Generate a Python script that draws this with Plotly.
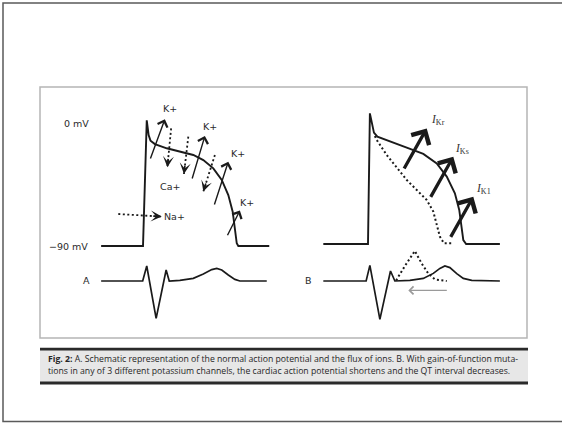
import math
import plotly.graph_objects as go

# ======================= data =======================
# Panel A - normal ventricular action potential (time in ms, membrane potential in mV)
ap_a_time = [-134, 0, 12, 18, 24, 38, 76, 118, 161, 193, 225, 252, 273, 287, 294, 300, 305, 404]
ap_a_mv = [-90, -90, 2, -8.8, -12.9, -15.4, -18.5, -21.0, -23.4, -27.1, -33.2, -41.7, -52.7, -64.9, -77.1, -88.0, -90, -90]

# Panel A - surface ECG (time in ms, amplitude in mV)
ecg_a_time = [-134, -1, 12, 42, 74, 84, 118, 161, 193, 220, 236, 252, 273, 294, 310, 396]
ecg_a_mv = [0, 0, 0.75, -1.87, 0.55, 0, 0.03, 0.13, 0.35, 0.57, 0.63, 0.55, 0.30, 0.08, 0, 0]

# Panel B - normal action potential (solid) and shortened action potential (dotted)
ap_b_time = [-143, 0, 6, 13, 19, 30, 70, 124, 177, 220, 252, 278, 292, 300, 305, 314, 422]
ap_b_mv = [-90, -90, 5.6, -2.9, -8.5, -11.5, -15.1, -19.5, -24.1, -31.0, -40.7, -52.9, -65.1, -77.3, -87.1, -90, -90]
short_ap_time = [22, 28, 60, 92, 124, 156, 188, 209, 220, 230, 243, 273]
short_ap_mv = [-11, -13.9, -24.9, -33.9, -43.2, -50.5, -57.8, -66.3, -74.9, -84.6, -89.5, -89.5]

# Panel B - ECG with normal T wave (solid) and early T wave (dotted)
ecg_b_time = [-143, -6, 6, 38, 72, 86, 134, 177, 209, 230, 246, 262, 284, 305, 332, 422]
ecg_b_mv = [0, 0, 0.78, -1.92, 0.5, 0, 0.03, 0.13, 0.38, 0.63, 0.75, 0.67, 0.37, 0.13, 0.03, 0]
short_t_time = [90, 118, 150, 172, 193, 214, 252]
short_t_mv = [0.03, 0.75, 1.5, 0.87, 0.37, 0.08, 0]

# Ion fluxes, panel A: (start ms, start mV, end ms, end mV)
k_out_a = [(22, -27.1, 70, 2.7), (156, -41.7, 198, -9.5), (227, -60.7, 273, -28.3), (268, -83.2, 310, -64.1)]
k_label_pos = [(85, 10.7), (214, -2.7), (305, -22.2), (334, -58.3)]
ca_in_a = [(90, -3.9, 78, -32.4), (145, -10, 131, -37.3), (230, -23.4, 193, -50.2)]
ca_label_pos = (86, -46.1)
na_in_a = (-79, -66.6, 60, -68.5)
na_label_pos = (102, -68.5)

# Potassium currents, panel B
ik_b = [(113, -35.9, 188, -5.4), (198, -56.6, 273, -26.1), (262, -85.9, 337, -55.4)]
ik_names = ["Kr", "Ks", "K1"]
ik_label_pos = [(224, 0.7), (302, -20.7), (368, -49.8)]

# QT shortening arrow (ECG units)
qt_arrow = (257, -0.47, 129, -0.47)

caption_line1 = ("<b>Fig. 2:</b> A. Schematic representation of the normal action potential and the flux of ions. "
                 "B. With gain-of-function muta-")
caption_line2 = ("tions in any of 3 different potassium channels, the cardiac action potential shortens "
                 "and the QT interval decreases.")

# ======================= layout geometry =======================
W, H = 562, 424
MS_PX = 3.2          # ms per pixel
MV_PX = 90 / 123     # mV per pixel (AP)
E_PX = 1 / 20        # mV per pixel (ECG)


def fx(x):
    return x / W


def fy(y):
    return 1 - y / H


INK = "#1a1a1a"
LABEL_FONT = dict(family="DejaVu Sans", size=9.5, color="#2a2a2a")

fig = go.Figure()


def line(x, y, xa, ya, dash="solid", width=1.9, color=INK):
    fig.add_trace(go.Scatter(x=x, y=y, xaxis=xa, yaxis=ya, mode="lines",
                             line=dict(color=color, width=width, dash=dash),
                             hoverinfo="skip", showlegend=False))


# curves
line(ap_a_time, ap_a_mv, "x", "y")
line(ecg_a_time, ecg_a_mv, "x", "y3", width=1.7)
line(ap_b_time, ap_b_mv, "x2", "y2")
line(short_ap_time, short_ap_mv, "x2", "y2", dash="2px,2.5px", width=2)
line(ecg_b_time, ecg_b_mv, "x2", "y3", width=1.7)
line(short_t_time, short_t_mv, "x2", "y3", dash="2px,2.5px", width=2)

annotations = []


def solid_arrow(a, xr, yr, width, head, size, color=INK):
    t0, v0, t1, v1 = a
    annotations.append(dict(x=t1, y=v1, ax=t0, ay=v0, xref=xr, yref=yr, axref=xr, ayref=yr,
                            text="", showarrow=True, arrowhead=head, arrowsize=size,
                            arrowwidth=width, arrowcolor=color))


def dotted_arrow(a, xr, yr, yscale):
    t0, v0, t1, v1 = a
    line([t0, t1], [v0, v1], xr, yr, dash="2px,2.5px", width=1.8)
    dxp = (t1 - t0) / MS_PX
    dyp = -(v1 - v0) / yscale
    n = math.hypot(dxp, dyp)
    L = 10
    annotations.append(dict(x=t1, y=v1, ax=-dxp / n * L, ay=-dyp / n * L, xref=xr, yref=yr,
                            text="", showarrow=True, arrowhead=3, arrowsize=1.15,
                            arrowwidth=1.6, arrowcolor=INK))


for a in k_out_a:
    solid_arrow(a, "x", "y", 1.4, 4, 1.45)
for (t, v) in k_label_pos:
    annotations.append(dict(x=t, y=v, xref="x", yref="y", text="K+", showarrow=False, font=LABEL_FONT))
for a in ca_in_a:
    dotted_arrow(a, "x", "y", MV_PX)
annotations.append(dict(x=ca_label_pos[0], y=ca_label_pos[1], xref="x", yref="y", text="Ca+",
                        showarrow=False, font=LABEL_FONT))
dotted_arrow(na_in_a, "x", "y", MV_PX)
annotations.append(dict(x=na_label_pos[0], y=na_label_pos[1], xref="x", yref="y", text="Na+",
                        showarrow=False, font=LABEL_FONT))

for a in ik_b:
    solid_arrow(a, "x2", "y2", 3.3, 4, 1.2)
for name, (t, v) in zip(ik_names, ik_label_pos):
    annotations.append(dict(x=t, y=v, xref="x2", yref="y2",
                            text="<i>I</i><sub>%s</sub>" % name, showarrow=False,
                            font=dict(family="Liberation Serif", size=11.5, color="#333")))

solid_arrow(qt_arrow, "x2", "y3", 1.1, 4, 1.4, color="#9a9a9a")

# axis labels
annotations += [
    dict(x=-214, y=0, xref="x", yref="y", text="0 mV", showarrow=False, font=LABEL_FONT),
    dict(x=-170, y=-90, xref="x", yref="y", text="\u221290 mV", showarrow=False,
         xanchor="right", font=LABEL_FONT),
    dict(x=-180, y=0.05, xref="x", yref="y3", text="A", showarrow=False, font=LABEL_FONT),
    dict(x=-191, y=0.05, xref="x2", yref="y3", text="B", showarrow=False, font=LABEL_FONT),
]

# caption
CAP_FONT = dict(family="Open Sans", size=8.7, color="#262626")
annotations += [
    dict(x=fx(46), y=fy(358.5), xref="paper", yref="paper", text=caption_line1, showarrow=False,
         xanchor="left", yanchor="middle", font=CAP_FONT),
    dict(x=fx(46), y=fy(371), xref="paper", yref="paper", text=caption_line2, showarrow=False,
         xanchor="left", yanchor="middle", font=CAP_FONT),
]

shapes = [
    dict(type="rect", xref="paper", yref="paper", x0=fx(3), x1=fx(566), y0=fy(3), y1=fy(421.5),
         line=dict(color="#5a5a5a", width=1.5), layer="below"),
    dict(type="rect", xref="paper", yref="paper", x0=fx(40), x1=fx(527), y0=fy(87), y1=fy(338),
         line=dict(color="#b5b5b5", width=1.5), layer="below"),
    dict(type="rect", xref="paper", yref="paper", x0=fx(40), x1=fx(528), y0=fy(349), y1=fy(383),
         fillcolor="#e7e7e7", line=dict(width=0), layer="below"),
    dict(type="line", xref="paper", yref="paper", x0=fx(40), x1=fx(528), y0=fy(349.2), y1=fy(349.2),
         line=dict(color="#2a2a2a", width=2.8)),
    dict(type="line", xref="paper", yref="paper", x0=fx(40), x1=fx(528), y0=fy(383), y1=fy(383),
         line=dict(color="#2a2a2a", width=2.8)),
]

x_range = [-103 * MS_PX, (250 - 103) * MS_PX]
ax_common = dict(visible=False, fixedrange=True, showgrid=False, zeroline=False)

fig.update_layout(
    width=W, height=H, margin=dict(l=0, r=0, t=0, b=0),
    paper_bgcolor="white", plot_bgcolor="rgba(0,0,0,0)",
    showlegend=False,
    xaxis=dict(domain=[fx(40), fx(290)], range=x_range, anchor="y", **ax_common),
    xaxis2=dict(domain=[fx(265), fx(515)], range=x_range, anchor="y2", **ax_common),
    yaxis=dict(domain=[0, 1], range=[-(H - 123) * MV_PX, 123 * MV_PX], anchor="x", **ax_common),
    yaxis2=dict(domain=[0, 1], range=[-(H - 121) * MV_PX, 121 * MV_PX], anchor="x2", **ax_common),
    yaxis3=dict(domain=[0, 1], range=[-(H - 281) * E_PX, 281 * E_PX], anchor="x", **ax_common),
    annotations=annotations,
    shapes=shapes,
)

fig.write_html("out.html")
